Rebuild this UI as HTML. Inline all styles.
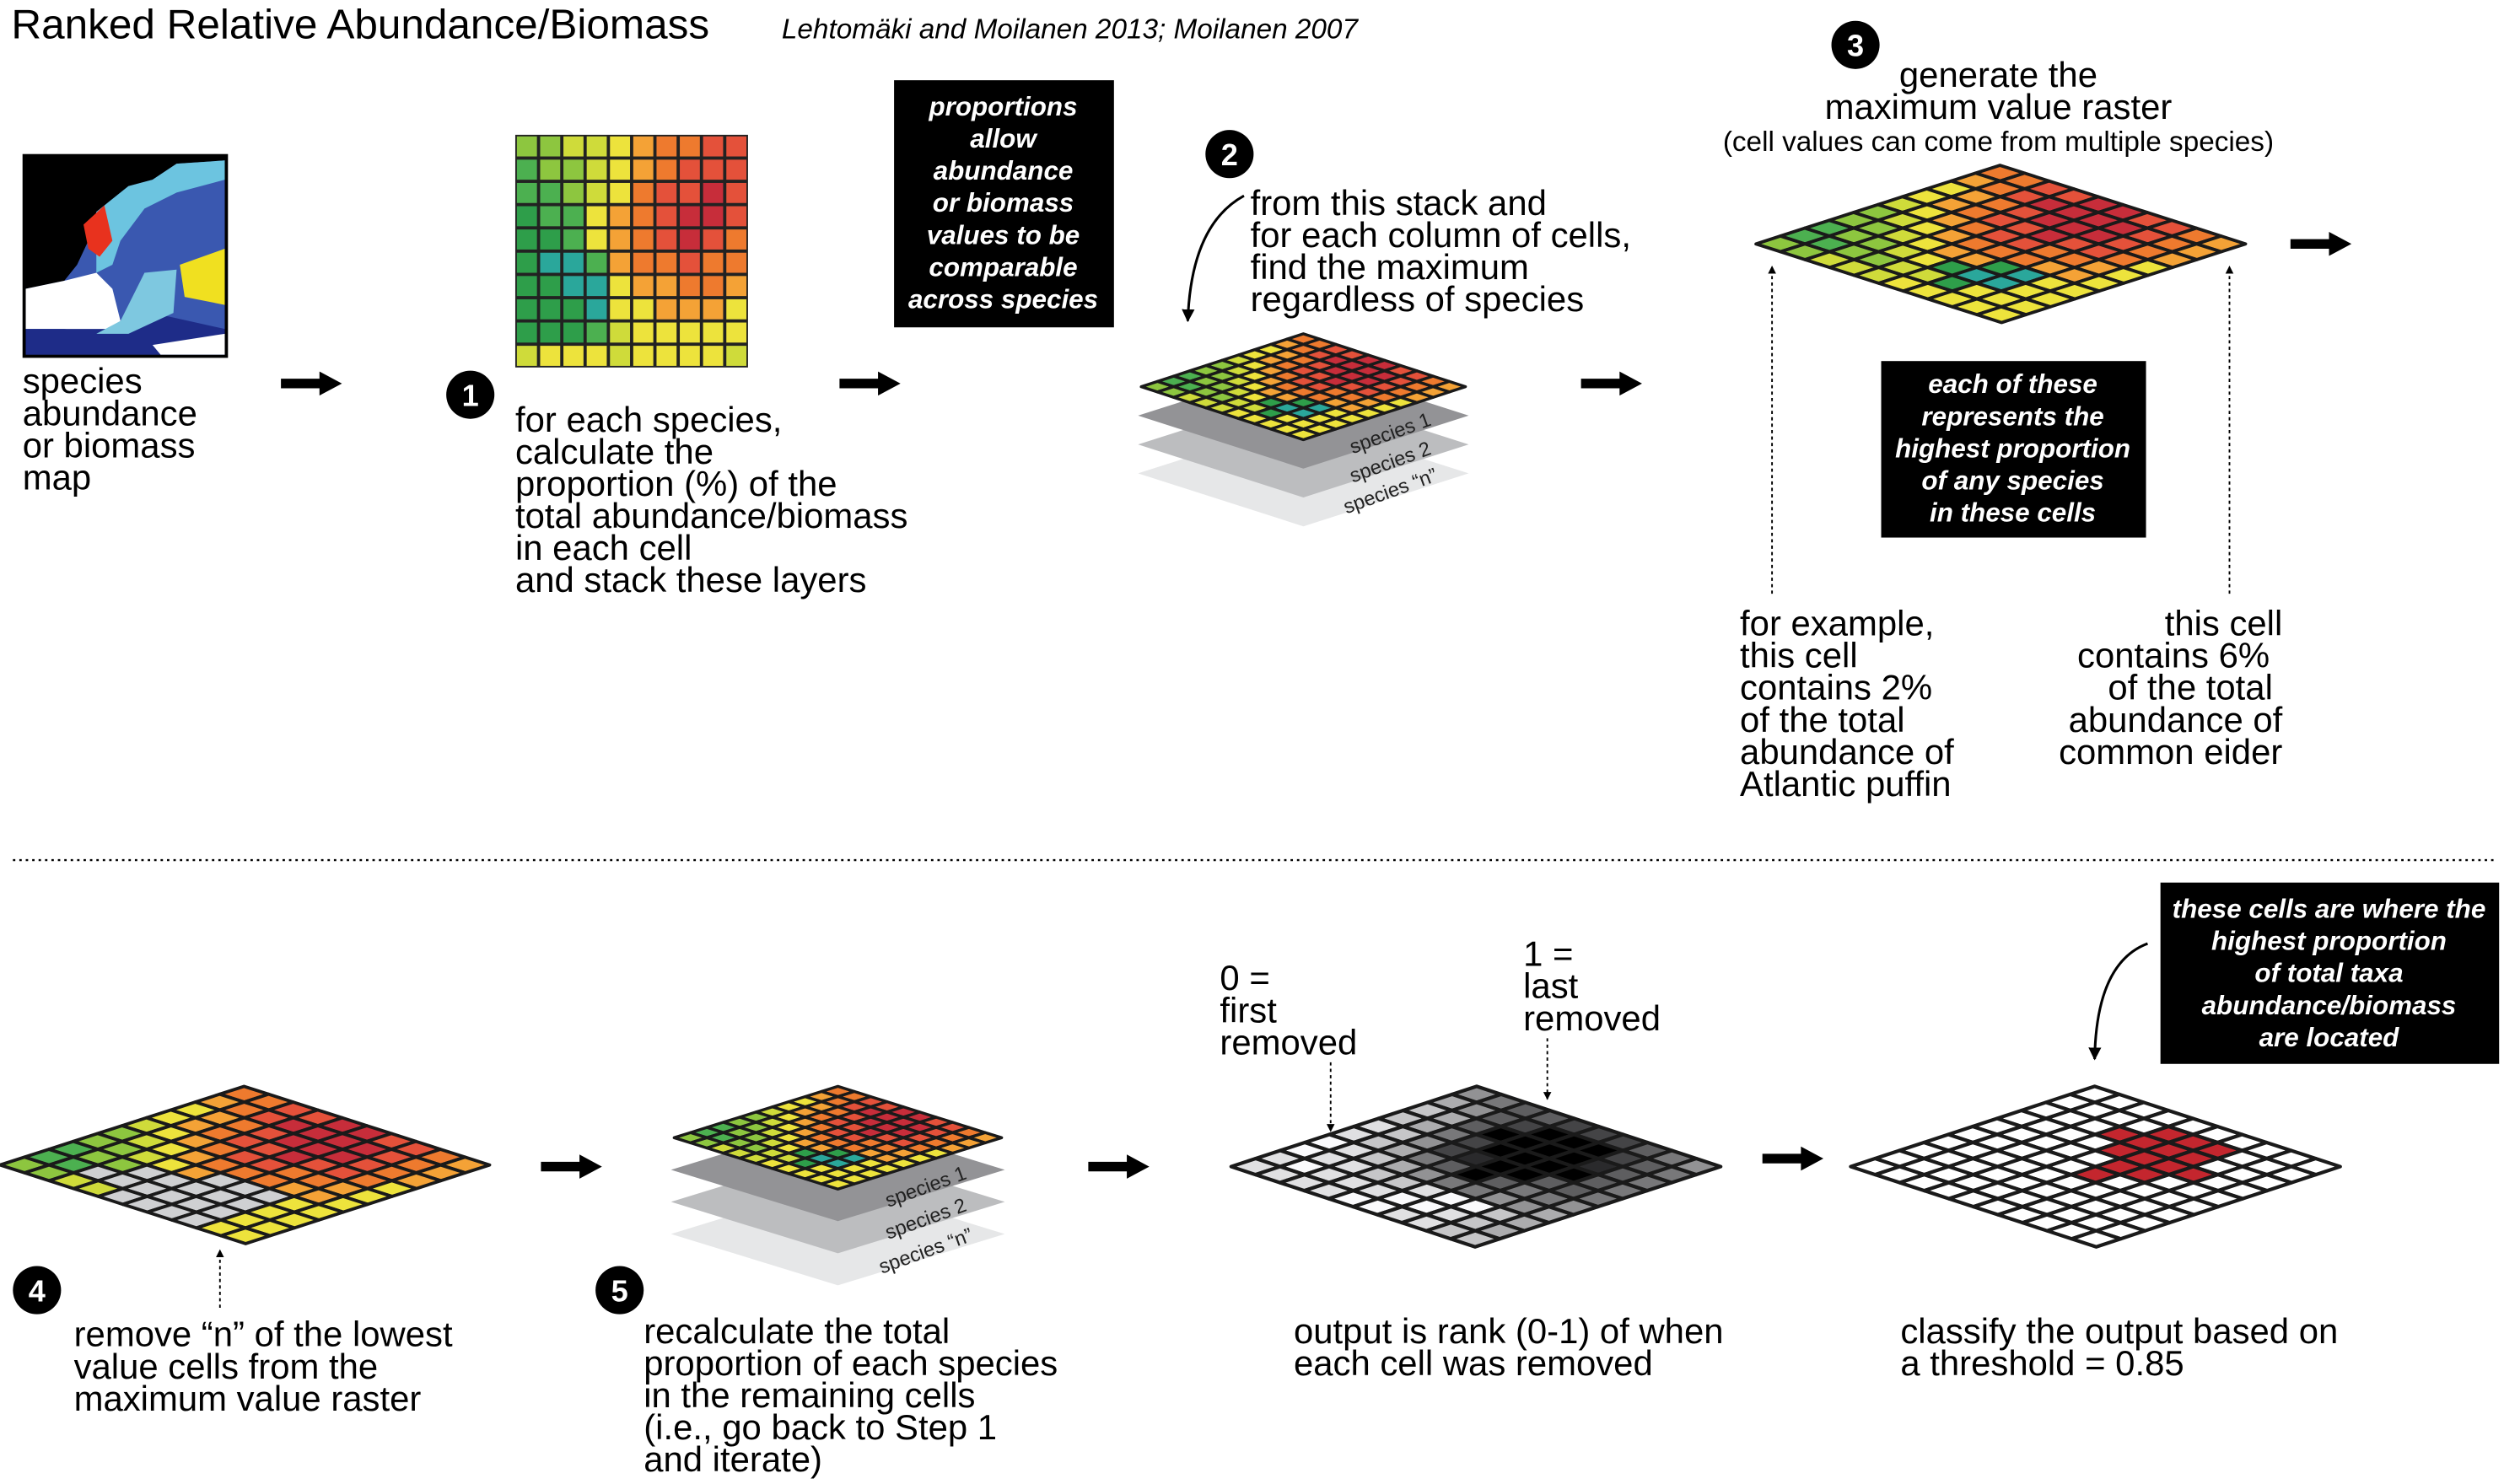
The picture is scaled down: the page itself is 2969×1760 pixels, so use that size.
<!DOCTYPE html>
<html><head><meta charset="utf-8"><style>
html,body{margin:0;padding:0;background:#fff}
svg{display:block}
text{font-family:"Liberation Sans",sans-serif}
</style></head><body>
<svg id="root" width="2969" height="1760" viewBox="0 0 1560 924.8" xmlns="http://www.w3.org/2000/svg">
<defs>
<marker id="ah" viewBox="0 0 10 10" refX="9" refY="5" markerWidth="5" markerHeight="6" orient="auto"><path d="M0,0 L10,5 L0,10 z" fill="#000"/></marker>
</defs>
<text x="7" y="24" font-size="26">Ranked Relative Abundance/Biomass</text>
<text x="487" y="24" font-size="17.5" font-style="italic">Lehtomäki and Moilanen 2013; Moilanen 2007</text>

<g>
<rect x="14" y="96" width="128" height="127" fill="#000"/>
<rect x="16" y="98" width="124" height="123" fill="#3a58b0"/>
<path d="M16,98 L140,98 L140,100 L110,102 L95,112 L80,116 L60,132 L55,150 L48,165 L40,175 L16,180 z" fill="#000"/>
<path d="M16,180 L40,175 L60,170 L70,180 L75,200 L65,208 L40,205 L16,205 z" fill="#fff"/>
<path d="M60,132 L80,116 L95,112 L110,102 L140,100 L140,112 L110,120 L90,130 L75,150 L70,165 L60,170 z" fill="#6cc4e0"/>
<path d="M52,140 L65,128 L70,150 L62,160 L55,155 z" fill="#e8321e"/>
<path d="M112,165 L140,155 L140,190 L115,185 z" fill="#f0e020"/>
<path d="M16,205 L70,205 L95,195 L140,205 L140,221 L16,221 z" fill="#1e2c88"/>
<path d="M60,208 L75,200 L90,170 L110,168 L108,195 L80,208 z" fill="#7ec8e0"/>
<path d="M95,215 L140,208 L140,221 L100,221 z" fill="#fff"/>
</g>
<text font-size="22"><tspan x="14" y="245">species</tspan><tspan x="14" y="265">abundance</tspan><tspan x="14" y="285">or biomass</tspan><tspan x="14" y="305">map</tspan></text>

<g id="arrows"></g>
<g id="grid1"></g>

<g><circle cx="293" cy="246" r="15" fill="#000"/><text x="293" y="253" font-size="19" font-weight="bold" fill="#fff" text-anchor="middle">1</text></g>
<text font-size="22"><tspan x="321" y="269">for each species,</tspan><tspan x="321" y="289">calculate the</tspan><tspan x="321" y="309">proportion (%) of the</tspan><tspan x="321" y="329">total abundance/biomass</tspan><tspan x="321" y="349">in each cell</tspan><tspan x="321" y="369">and stack these layers</tspan></text>

<g><rect x="557" y="50" width="137" height="154" fill="#000"/>
<text font-size="16.5" font-weight="bold" font-style="italic" fill="#fff" text-anchor="middle"><tspan x="625" y="72">proportions</tspan><tspan x="625" y="92">allow</tspan><tspan x="625" y="112">abundance</tspan><tspan x="625" y="132">or biomass</tspan><tspan x="625" y="152">values to be</tspan><tspan x="625" y="172">comparable</tspan><tspan x="625" y="192">across species</tspan></text></g>

<g><circle cx="766" cy="96" r="15" fill="#000"/><text x="766" y="103" font-size="19" font-weight="bold" fill="#fff" text-anchor="middle">2</text></g>
<text font-size="22"><tspan x="779" y="134">from this stack and</tspan><tspan x="779" y="154">for each column of cells,</tspan><tspan x="779" y="174">find the maximum</tspan><tspan x="779" y="194">regardless of species</tspan></text>
<path d="M775,122 Q742,140 740,200" fill="none" stroke="#000" stroke-width="1.6" marker-end="url(#ah)"/>

<g id="stack1"></g>

<g><circle cx="1156" cy="28" r="15" fill="#000"/><text x="1156" y="35" font-size="19" font-weight="bold" fill="#fff" text-anchor="middle">3</text></g>
<text font-size="22" text-anchor="middle"><tspan x="1245" y="54">generate the</tspan><tspan x="1245" y="74">maximum value raster</tspan></text>
<text font-size="17.5" text-anchor="middle" x="1245" y="94">(cell values can come from multiple species)</text>
<g id="grid3"></g>
<line x1="1104" y1="370" x2="1104" y2="166" stroke="#000" stroke-width="1" stroke-dasharray="2,2" marker-end="url(#ah)"/>
<line x1="1389" y1="370" x2="1389" y2="166" stroke="#000" stroke-width="1" stroke-dasharray="2,2" marker-end="url(#ah)"/>
<g><rect x="1172" y="225" width="165" height="110" fill="#000"/>
<text font-size="16.5" font-weight="bold" font-style="italic" fill="#fff" text-anchor="middle"><tspan x="1254" y="245">each of these</tspan><tspan x="1254" y="265">represents the</tspan><tspan x="1254" y="285">highest proportion</tspan><tspan x="1254" y="305">of any species</tspan><tspan x="1254" y="325">in these cells</tspan></text></g>
<text font-size="22"><tspan x="1084" y="396">for example,</tspan><tspan x="1084" y="416">this cell</tspan><tspan x="1084" y="436">contains 2%</tspan><tspan x="1084" y="456">of the total</tspan><tspan x="1084" y="476">abundance of</tspan><tspan x="1084" y="496">Atlantic puffin</tspan></text>
<text font-size="22" text-anchor="end"><tspan x="1422" y="396">this cell</tspan><tspan x="1414" y="416">contains 6%</tspan><tspan x="1416" y="436">of the total</tspan><tspan x="1422" y="456">abundance of</tspan><tspan x="1422" y="476">common eider</tspan></text>

<line x1="8" y1="536" x2="1556" y2="536" stroke="#000" stroke-width="1.2" stroke-dasharray="1.5,2.5"/>

<g id="grid4"></g>
<line x1="137" y1="815" x2="137" y2="779" stroke="#000" stroke-width="1" stroke-dasharray="2,2" marker-end="url(#ah)"/>
<g><circle cx="23" cy="804" r="15" fill="#000"/><text x="23" y="811" font-size="19" font-weight="bold" fill="#fff" text-anchor="middle">4</text></g>
<text font-size="22"><tspan x="46" y="839">remove “n” of the lowest</tspan><tspan x="46" y="859">value cells from the</tspan><tspan x="46" y="879">maximum value raster</tspan></text>

<g id="stack2"></g>
<g><circle cx="386" cy="804" r="15" fill="#000"/><text x="386" y="811" font-size="19" font-weight="bold" fill="#fff" text-anchor="middle">5</text></g>
<text font-size="22"><tspan x="401" y="837">recalculate the total</tspan><tspan x="401" y="857">proportion of each species</tspan><tspan x="401" y="877">in the remaining cells</tspan><tspan x="401" y="897">(i.e., go back to Step 1</tspan><tspan x="401" y="917">and iterate)</tspan></text>

<g id="grid6"></g>
<text font-size="22"><tspan x="760" y="617">0 =</tspan><tspan x="760" y="637">first</tspan><tspan x="760" y="657">removed</tspan></text>
<text font-size="22"><tspan x="949" y="602">1 =</tspan><tspan x="949" y="622">last</tspan><tspan x="949" y="642">removed</tspan></text>
<line x1="829" y1="662" x2="829" y2="705" stroke="#000" stroke-width="1" stroke-dasharray="2,2" marker-end="url(#ah)"/>
<line x1="964" y1="647" x2="964" y2="685" stroke="#000" stroke-width="1" stroke-dasharray="2,2" marker-end="url(#ah)"/>
<text font-size="22"><tspan x="806" y="837">output is rank (0-1) of when</tspan><tspan x="806" y="857">each cell was removed</tspan></text>

<g id="grid7"></g>
<g><rect x="1346" y="550" width="211" height="113" fill="#000"/>
<text font-size="16.5" font-weight="bold" font-style="italic" fill="#fff" text-anchor="middle"><tspan x="1451" y="572">these cells are where the</tspan><tspan x="1451" y="592">highest proportion</tspan><tspan x="1451" y="612">of total taxa</tspan><tspan x="1451" y="632">abundance/biomass</tspan><tspan x="1451" y="652">are located</tspan></text></g>
<path d="M1338,588 Q1306,600 1305,660" fill="none" stroke="#000" stroke-width="1.6" marker-end="url(#ah)"/>
<text font-size="22"><tspan x="1184" y="837">classify the output based on</tspan><tspan x="1184" y="857">a threshold = 0.85</tspan></text>
</svg>
<script>
// proportion grid (flat, rows top->bottom), values 0-9 colour class
const grid1Rows = ["3344567788","2334567888","2234578898","1225678998","1125678987","1002677877","1100566776","1110556665","1112455555","4555455554"];
// maximum value raster (isometric, rows v, cols u), colour class 0-9
const maxRows = ["7788998876","6789999876","5678999876","5678898875","4567887765","3456777665","3345661055","2334510055","2233441555","3344455555"];
// removed cells after step 4 (1 = removed)
const removedRows = ["0000000000","0000000000","0000000000","0000000000","0000000000","0000000000","0000011100","0001111100","0011111100","0000111100"];
// rank of removal (tenths, 0..9)
const rankRows = ["4566777654","3467999765","2369999865","2357999965","1247899665","1235696554","0123455443","0112210023","1011100123","1111001122"];
const threshold = 0.85;
const palette = ["#2aa79b","#2e9e4a","#4cb050","#8dc63f","#cfdb3a","#ede33c","#f4a236","#ee7a2e","#e4513a","#c72d3a"];

const NS = "http://www.w3.org/2000/svg";
function mk(tag, attrs, parent){const e=document.createElementNS(NS,tag);for(const k in attrs)e.setAttribute(k,attrs[k]);parent.appendChild(e);return e;}

const arrowsG = document.getElementById('arrows');
const arrowSpots = [[175,239],[523,239],[985,239],[1427,152],[337,727],[678,727],[1098,722]];
arrowSpots.forEach((p,i)=>{
  const a = mk('path',{d:`M${p[0]},${p[1]-3} h24 v-4.5 l14,7.5 l-14,7.5 v-4.5 h-24 z`,fill:'#000'},arrowsG);
  
  
});

const g1 = document.getElementById('grid1');
const gx=321, gy=84, cs=14.5;
mk('rect',{x:gx,y:gy,width:cs*10,height:cs*10,fill:'#222'},g1);
grid1Rows.forEach((row,r)=>{
  [...row].forEach((ch,c)=>{
    const cell = mk('rect',{x:gx+c*cs+1,y:gy+r*cs+1,width:cs-2,height:cs-2,fill:palette[+ch]},g1);
    
    
  });
});

function isoPt(T,R,L,u,v){return [T[0]+u*(R[0]-T[0])+v*(L[0]-T[0]), T[1]+u*(R[1]-T[1])+v*(L[1]-T[1])];}
function isoGrid(parent,T,R,L,colorFn,sw){
  const n=10;
  const B=[R[0]+L[0]-T[0],R[1]+L[1]-T[1]];
  mk('polygon',{points:[T,R,B,L].map(p=>p.join(',')).join(' '),fill:'#1a1a1a'},parent);
  for(let v=0;v<n;v++)for(let u=0;u<n;u++){
    const pts=[[u,v],[u+1,v],[u+1,v+1],[u,v+1]].map(q=>isoPt(T,R,L,q[0]/n,q[1]/n));
    const cell = mk('polygon',{points:pts.map(p=>p.join(',')).join(' '),fill:colorFn(v,u),stroke:'#1a1a1a','stroke-width':sw,'stroke-linejoin':'round'},parent);
    
    
  }
}
function stack(parent,cx,top,hw,hh,gap,labels){
  const shades=["#e6e7e8","#bcbdbf","#939396"];
  for(let k=2;k>=0;k--){
    const y0=top+hh+(k+1)*gap;
    const layer = mk('polygon',{points:`${cx-hw-2},${y0} ${cx},${y0-hh} ${cx+hw+2},${y0} ${cx},${y0+hh}`,fill:shades[2-k]},parent);
    
    
    const t = mk('text',{x:cx+hw*0.55,y:y0+hh*0.45,'font-size':12.5,fill:'#222','text-anchor':'middle',transform:`rotate(-20 ${cx+hw*0.55} ${y0+hh*0.45})`},parent);
    t.textContent=labels[k];
    
    
  }
  isoGrid(parent,[cx,top],[cx+hw,top+hh],[cx-hw,top+hh],(v,u)=>palette[+maxRows[v][u]],1.8);
}
stack(document.getElementById('stack1'),812,208,101,33,18,['species 1','species 2','species “n”']);
stack(document.getElementById('stack2'),522,677,102,32,20,['species 1','species 2','species “n”']);

isoGrid(document.getElementById('grid3'),[1246,103],[1399,152],[1094,152],(v,u)=>palette[+maxRows[v][u]],2);
isoGrid(document.getElementById('grid4'),[152,677],[305,726],[0,726],(v,u)=>removedRows[v][u]==='1'?'#cfd0d2':palette[+maxRows[v][u]],2);
function gray(r){const g=Math.round(250-r*26);return `rgb(${g},${g},${g+2})`;}
isoGrid(document.getElementById('grid6'),[920,677],[1072,727],[767,727],(v,u)=>{const r=+rankRows[v][u];return r>=9?'#000':gray(r);},2.2);
isoGrid(document.getElementById('grid7'),[1305,677],[1458,727],[1153,727],(v,u)=>(+rankRows[v][u])/10>=threshold?'#c4262e':'#fff',2.2);
</script>
</body></html>
